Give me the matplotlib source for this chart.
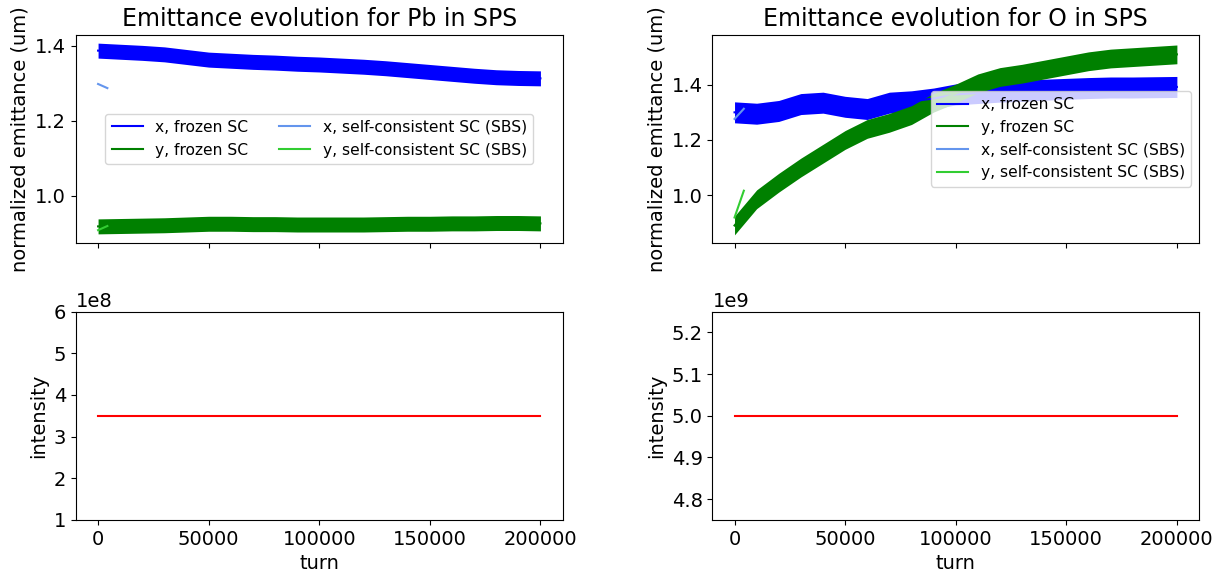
import numpy as np
import matplotlib
matplotlib.use("Agg")
import matplotlib.pyplot as plt

# ---- data ----
turns = [0, 10000, 20000, 30000, 40000, 50000, 60000, 70000, 80000, 90000, 100000,
         110000, 120000, 130000, 140000, 150000, 160000, 170000, 180000, 190000, 200000]

pb_x_frozen = [1.387, 1.384, 1.381, 1.377, 1.370, 1.363, 1.360, 1.357, 1.355, 1.352, 1.350,
               1.347, 1.344, 1.340, 1.335, 1.330, 1.325, 1.320, 1.316, 1.314, 1.313]
pb_y_frozen = [0.918, 0.919, 0.920, 0.921, 0.923, 0.925, 0.925, 0.924, 0.924, 0.923, 0.923,
               0.923, 0.923, 0.924, 0.925, 0.925, 0.926, 0.926, 0.927, 0.927, 0.926]
pb_band = 0.020

o_x_frozen = [1.300, 1.295, 1.305, 1.330, 1.335, 1.320, 1.312, 1.335, 1.340, 1.350, 1.365,
              1.370, 1.375, 1.378, 1.382, 1.385, 1.388, 1.390, 1.390, 1.391, 1.392]
o_y_frozen = [0.890, 0.985, 1.045, 1.100, 1.150, 1.200, 1.240, 1.262, 1.290, 1.335, 1.368,
              1.405, 1.428, 1.440, 1.455, 1.470, 1.485, 1.495, 1.500, 1.505, 1.510]
o_x_band = 0.038
o_y_band = 0.034

sbs_turns = [0, 4200]
pb_x_sbs = [1.298, 1.287]
pb_y_sbs = [0.908, 0.919]
o_x_sbs = [1.276, 1.313]
o_y_sbs = [0.919, 1.016]

pb_intensity = [3.5e8, 3.5e8]
o_intensity = [5.0e9, 5.0e9]
int_turns = [0, 200000]

plt.rcParams['font.size'] = 14

fig, axs = plt.subplots(2, 2, sharex='col', figsize=(12.29, 5.79), dpi=100)
fig.subplots_adjust(left=0.0618, right=0.9756, top=0.9404, bottom=0.1019,
                    wspace=0.308, hspace=0.33)

t = np.array(turns)

def band(ax, y, hw, color, label):
    y = np.array(y)
    ax.fill_between(t, y - hw, y + hw, color=color, lw=0)
    ax.plot(t, y, color=color, label=label)

# Pb emittance
ax = axs[0, 0]
band(ax, pb_x_frozen, pb_band, 'blue', 'x, frozen SC')
band(ax, pb_y_frozen, pb_band, 'green', 'y, frozen SC')
ax.plot(sbs_turns, pb_x_sbs, color='cornflowerblue', label='x, self-consistent SC (SBS)')
ax.plot(sbs_turns, pb_y_sbs, color='limegreen', label='y, self-consistent SC (SBS)')
ax.set_ylim(0.874, 1.430)
ax.set_yticks([1.0, 1.2, 1.4])
ax.set_title('Emittance evolution for Pb in SPS', fontsize=17)
ax.set_ylabel('normalized emittance (um)')
ax.legend(loc='center', ncol=2, fontsize=11.2)

# O emittance
ax = axs[0, 1]
band(ax, o_x_frozen, o_x_band, 'blue', 'x, frozen SC')
band(ax, o_y_frozen, o_y_band, 'green', 'y, frozen SC')
ax.plot(sbs_turns, o_x_sbs, color='cornflowerblue', label='x, self-consistent SC (SBS)')
ax.plot(sbs_turns, o_y_sbs, color='limegreen', label='y, self-consistent SC (SBS)')
ax.set_ylim(0.827, 1.582)
ax.set_yticks([1.0, 1.2, 1.4])
ax.set_title('Emittance evolution for O in SPS', fontsize=17)
ax.set_ylabel('normalized emittance (um)')
ax.legend(loc='center right', fontsize=11.2)

# Pb intensity
ax = axs[1, 0]
ax.plot(int_turns, pb_intensity, color='red')
ax.set_ylim(1e8, 6e8)
ax.set_ylabel('intensity')
ax.set_xlabel('turn')

# O intensity
ax = axs[1, 1]
ax.plot(int_turns, o_intensity, color='red')
ax.set_ylim(4.75e9, 5.25e9)
ax.set_yticks([4.8e9, 4.9e9, 5.0e9, 5.1e9, 5.2e9])
ax.set_ylabel('intensity')
ax.set_xlabel('turn')

for a in axs[1]:
    a.set_xlim(-10000, 210000)
    a.set_xticks([0, 50000, 100000, 150000, 200000])

fig.savefig('out.png', dpi=100)
